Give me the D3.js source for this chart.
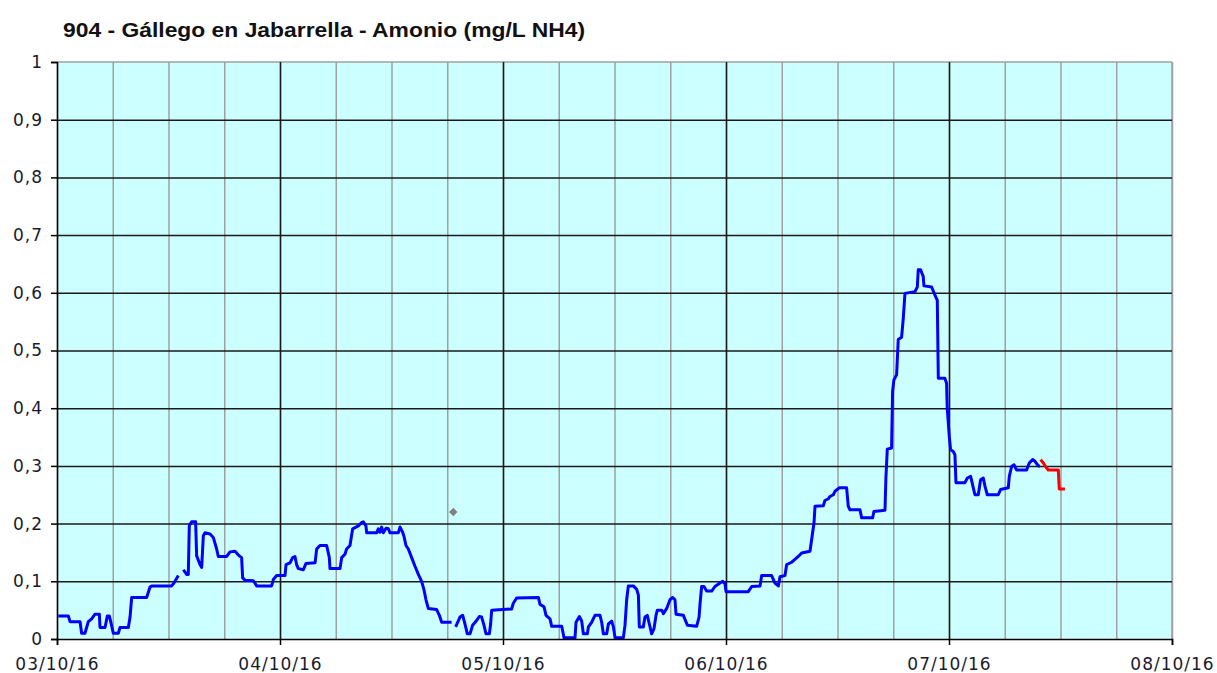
<!DOCTYPE html>
<html>
<head>
<meta charset="utf-8">
<script src="https://cdn.jsdelivr.net/npm/d3@7"></script>
<style>
  body { margin: 0; background: #fff; }
  .tick-label { font-family: 'DejaVu Sans', Verdana, sans-serif; font-size: 17px; fill: #1a1a2e; letter-spacing: 1px; }
</style>
</head>
<body>
<div id="chart"></div>
<script>
// Chart data
const chartTitle = '904 - Gállego en Jabarrella - Amonio (mg/L NH4)';
const startDate = new Date(2016, 9, 3);
const endDate = new Date(2016, 9, 8);
const yTicks = [0, 0.1, 0.2, 0.3, 0.4, 0.5, 0.6, 0.7, 0.8, 0.9, 1];

// hours since 03/10/16 00:00 and NH4 value (null = gap in the record)
const blueHours = [
  0.14, 1.22, 1.40, 2.48, 2.65, 3.01, 3.37, 3.73, 4.09, 4.56, 4.63, 5.17, 5.42, 5.63, 5.78, 6.06, 6.60, 6.78, 7.68, 7.86,
  8.04, 9.65, 10.01, 10.19, 12.34, 12.59, 13.06, 13.30, 13.60, 13.95, 14.13, 14.24, 14.49, 14.92, 15.03, 15.39, 15.57, 15.75, 15.93, 16.47,
  16.82, 17.18, 17.36, 18.26, 18.62, 19.16, 19.62, 19.87, 19.98, 20.23, 21.13, 21.49, 23.10, 23.28, 23.64, 24.54, 24.65, 25.08, 25.36, 25.61,
  25.79, 25.97, 26.51, 26.80, 27.77, 27.95, 28.30, 29.02, 29.31, 29.38, 30.46, 30.64, 30.99, 31.17, 31.53, 31.82, 32.43, 32.79, 32.97, 33.25,
  33.33, 34.40, 34.58, 34.76, 34.94, 35.12, 35.41, 35.66, 35.84, 36.73, 36.91, 37.20, 37.34, 37.56, 37.81, 38.17, 38.53, 38.89, 39.24, 39.50,
  39.71, 39.96, 40.86, 41.15, 41.40, 42.47, 42.70, 42.90, 43.37, 43.66, 43.91, 44.16, 44.45, 44.73, 45.16, 45.45, 45.70, 45.95, 46.17, 46.53,
  46.67, 46.78, 48.93, 49.11, 49.47, 51.81, 51.98, 52.41, 52.63, 53.06, 53.24, 54.32, 54.57, 55.75, 55.86, 56.22, 56.47, 56.65, 57.08, 57.19,
  57.54, 57.90, 58.44, 58.62, 58.80, 59.16, 59.34, 59.70, 59.88, 60.06, 60.95, 61.13, 61.31, 61.49, 62.03, 62.39, 62.57, 62.67, 63.10, 63.28,
  63.53, 63.75, 64.00, 64.25, 64.47, 64.61, 65.08, 65.26, 65.62, 65.97, 66.26, 66.51, 66.62, 67.41, 67.84, 68.84, 69.10, 69.20, 69.38, 69.63,
  69.92, 70.46, 70.81, 71.35, 71.64, 71.89, 72.00, 74.40, 74.76, 75.66, 75.84, 76.91, 77.27, 77.63, 77.81, 78.35, 78.53, 79.06, 79.42, 79.78,
  80.14, 81.04, 81.32, 81.47, 81.58, 82.47, 82.65, 83.01, 83.19, 83.55, 83.73, 84.19, 84.98, 85.16, 85.34, 86.42, 86.60, 87.78, 87.92, 89.11,
  89.21, 89.36, 89.82, 89.93, 90.07, 90.36, 90.54, 90.90, 91.08, 91.26, 92.34, 92.59, 92.69, 92.94, 93.23, 93.30, 94.13, 94.49, 94.74, 94.85,
  95.56, 95.74, 95.81, 96.03, 96.17, 96.46, 96.64, 96.75, 97.72, 97.97, 98.33, 98.54, 98.79, 99.15, 99.40, 99.69, 99.87, 100.12, 101.30, 101.55,
  102.38, 102.49, 102.74, 102.99, 103.28, 104.35, 104.64, 105.00, 105.25, 105.61, 105.79
];
const blueValues = [
  0.04, 0.04, 0.03, 0.03, 0.01, 0.01, 0.03, 0.035, 0.043, 0.043, 0.02, 0.02, 0.04, 0.04, 0.03, 0.01, 0.01, 0.02, 0.02, 0.038,
  0.072, 0.072, 0.09, 0.092, 0.092, 0.097, 0.11, null, 0.12, 0.112, 0.112, 0.197, 0.203, 0.203, 0.144, 0.129, 0.124, 0.179, 0.184, 0.182,
  0.176, 0.156, 0.143, 0.143, 0.151, 0.152, 0.144, 0.141, 0.106, 0.102, 0.101, 0.092, 0.092, 0.103, 0.11, 0.11, 0.129, 0.132, 0.141, 0.143,
  0.129, 0.122, 0.12, 0.131, 0.132, 0.156, 0.162, 0.162, 0.141, 0.122, 0.122, 0.141, 0.147, 0.156, 0.162, 0.191, 0.196, 0.202, 0.203, 0.196,
  0.184, 0.184, 0.191, 0.185, 0.194, 0.184, 0.192, 0.191, 0.184, 0.184, 0.194, 0.185, 0.178, 0.162, 0.156, 0.141, 0.126, 0.112, 0.10, 0.085,
  0.068, 0.053, 0.051, 0.041, 0.029, 0.029, null, 0.021, 0.038, 0.041, 0.026, 0.009, 0.009, 0.024, 0.032, 0.039, 0.038, 0.024, 0.009, 0.009,
  0.026, 0.05, 0.052, 0.062, 0.071, 0.072, 0.06, 0.056, 0.041, 0.035, 0.022, 0.022, 0.002, 0.002, 0.029, 0.039, 0.031, 0.009, 0.009, 0.021,
  0.029, 0.041, 0.041, 0.029, 0.009, 0.009, 0.026, 0.031, 0.021, 0.002, 0.002, 0.024, 0.068, 0.092, 0.092, 0.086, 0.076, 0.021, 0.021, 0.038,
  0.041, 0.026, 0.009, 0.018, 0.041, 0.05, 0.05, 0.044, 0.053, 0.068, 0.072, 0.068, 0.043, 0.041, 0.024, 0.022, 0.038, 0.06, 0.091, 0.091,
  0.083, 0.083, 0.091, 0.097, 0.10, 0.096, 0.082, 0.082, 0.091, 0.092, 0.11, 0.11, 0.097, 0.092, 0.108, 0.11, 0.129, 0.133, 0.138, 0.143,
  0.149, 0.152, 0.184, 0.201, 0.23, 0.231, 0.24, 0.243, 0.247, 0.25, 0.256, 0.262, 0.262, 0.23, 0.224, 0.224, 0.21, 0.21, 0.221, 0.223,
  0.279, 0.329, 0.331, 0.429, 0.449, 0.458, 0.519, 0.523, 0.556, 0.599, 0.602, 0.61, 0.64, 0.64, 0.628, 0.612, 0.61, 0.596, 0.587, 0.452,
  0.452, 0.443, 0.40, 0.351, 0.328, 0.325, 0.319, 0.271, 0.271, 0.279, 0.282, 0.267, 0.25, 0.25, 0.276, 0.279, 0.265, 0.25, 0.25, 0.259,
  0.262, 0.282, 0.299, 0.302, 0.293, 0.293, 0.305, 0.311, 0.308, 0.30, 0.30
];
const redHours = [105.86, 106.15, 106.43, 106.68, 107.76, 107.87, 108.48];
const redValues = [0.311, 0.305, 0.298, 0.293, 0.293, 0.26, 0.26];
const markerHours = [42.65];
const markerValues = [0.22];

const W = 1217, H = 673;
const margin = { top: 62, right: 45, bottom: 34, left: 57 };
const width = W - margin.left - margin.right;
const height = H - margin.top - margin.bottom;

const toDate = h => new Date(startDate.getTime() + h * 3600 * 1000);
const blueData = blueHours.map((h, i) => ({ t: toDate(h), v: blueValues[i] }));
const redData = redHours.map((h, i) => ({ t: toDate(h), v: redValues[i] }));
const markerData = markerHours.map((h, i) => ({ t: toDate(h), v: markerValues[i] }));

const svg = d3.select('#chart').append('svg')
  .attr('width', W).attr('height', H);

// Title
svg.append('text')
  .attr('x', 63).attr('y', 37)
  .attr('textLength', 522).attr('lengthAdjust', 'spacingAndGlyphs')
  .style('font-family', "'Liberation Sans', Arial, sans-serif")
  .style('font-size', '21px').style('font-weight', 'bold').style('fill', '#111')
  .text(chartTitle);

const g = svg.append('g').attr('transform', `translate(${margin.left},${margin.top})`);

const x = d3.scaleTime().domain([startDate, endDate]).range([0, width]);
const y = d3.scaleLinear().domain([0, 1]).range([height, 0]);

// Plot background
g.append('rect').attr('width', width).attr('height', height).attr('fill', '#ccffff');

// Minor vertical grid (every 6 hours, grey)
g.append('g').attr('class', 'grid-minor')
  .attr('transform', `translate(0,${height})`)
  .call(d3.axisBottom(x).ticks(d3.timeHour.every(6)).tickSize(-height).tickFormat(''))
  .call(s => s.select('.domain').remove())
  .selectAll('line').attr('stroke', '#a0a0a0').attr('stroke-width', 1.5);

// Top and right border (grey)
g.append('line').attr('x1', 0).attr('x2', width).attr('y1', 0).attr('y2', 0)
  .attr('stroke', '#a0a0a0').attr('stroke-width', 1.5);
g.append('line').attr('x1', width).attr('x2', width).attr('y1', 0).attr('y2', height)
  .attr('stroke', '#a0a0a0').attr('stroke-width', 1.5);

// Major horizontal grid (black)
g.append('g').attr('class', 'grid-y')
  .call(d3.axisLeft(y).tickValues(yTicks.slice(1, -1)).tickSize(-width).tickFormat(''))
  .call(s => s.select('.domain').remove())
  .selectAll('line').attr('stroke', '#1a1a1a').attr('stroke-width', 1.5);

// Major vertical grid (days, black)
const dayTicks = d3.timeDay.range(startDate, d3.timeDay.offset(endDate, 1));
g.append('g').attr('class', 'grid-x')
  .attr('transform', `translate(0,${height})`)
  .call(d3.axisBottom(x).tickValues(dayTicks.slice(1, -1)).tickSize(-height).tickFormat(''))
  .call(s => s.select('.domain').remove())
  .selectAll('line').attr('stroke', '#1a1a1a').attr('stroke-width', 1.5);

// Series
const line = d3.line()
  .defined(d => d.v !== null)
  .x(d => x(d.t))
  .y(d => y(d.v));

g.append('path').datum(blueData)
  .attr('fill', 'none').attr('stroke', '#0000ff').attr('stroke-width', 3)
  .attr('stroke-linejoin', 'round').attr('d', line);

g.append('path').datum(redData)
  .attr('fill', 'none').attr('stroke', '#ff0000').attr('stroke-width', 3)
  .attr('stroke-linejoin', 'round').attr('d', line);

g.selectAll('.marker').data(markerData).enter()
  .append('path').attr('class', 'marker')
  .attr('transform', d => `translate(${x(d.t)},${y(d.v)})`)
  .attr('d', d3.symbol(d3.symbolDiamond2, 45))
  .attr('fill', '#808080');

// Axes
const locale = d3.formatLocale({ decimal: ',', thousands: '.', grouping: [3], currency: ['', '€'] });
const yAxis = g.append('g').attr('class', 'y-axis')
  .call(d3.axisLeft(y).tickValues(yTicks).tickSize(6).tickPadding(8).tickFormat(locale.format('~g')));
yAxis.select('.domain').attr('stroke', '#000').attr('stroke-width', 1.5);
yAxis.selectAll('line').attr('stroke', '#000').attr('stroke-width', 1.5);
yAxis.selectAll('text').attr('class', 'tick-label');

const xAxis = g.append('g').attr('class', 'x-axis')
  .attr('transform', `translate(0,${height})`)
  .call(d3.axisBottom(x).tickValues(dayTicks).tickSize(6).tickPadding(13).tickFormat(d3.timeFormat('%d/%m/%y')));
xAxis.select('.domain').attr('stroke', '#000').attr('stroke-width', 1.5);
xAxis.selectAll('line').attr('stroke', '#000').attr('stroke-width', 1.5);
xAxis.selectAll('text').attr('class', 'tick-label');
</script>
</body>
</html>
